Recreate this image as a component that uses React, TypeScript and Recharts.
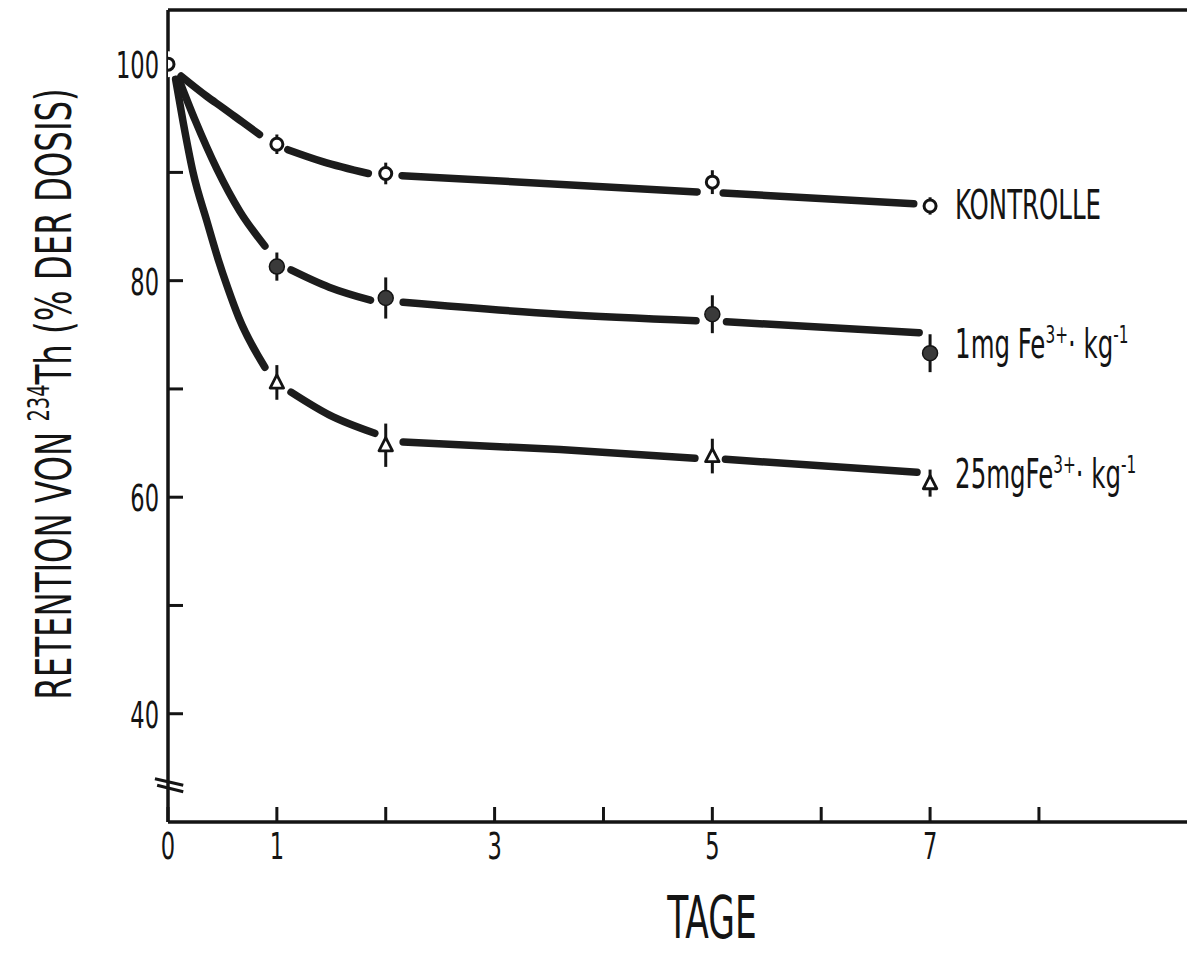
import React from 'react';
import {
  ComposedChart,
  Line,
  Scatter,
  XAxis,
  YAxis,
  ErrorBar,
  ReferenceLine,
} from 'recharts';

// measured points (days after dosing, % of dose retained)
const kontrolleDays = [0, 1, 2, 5, 7];
const kontrolleValues = [100, 92.6, 89.9, 89.1, 86.9];
const kontrolleErrors = [0, 0.9, 1.0, 1.1, 0.8];

const fe1Days = [1, 2, 5, 7];
const fe1Values = [81.3, 78.4, 76.9, 73.3];
const fe1Errors = [1.3, 1.9, 1.75, 1.75];

const fe25Days = [1, 2, 5, 7];
const fe25Values = [70.6, 64.8, 63.8, 61.3];
const fe25Errors = [1.6, 2.0, 1.6, 1.25];

// hand-drawn fit curves; null = the pen lifts around a marker
const kontrolleFitX = [0.12, 0.36, 0.5, 0.69, 0.84, 1, 1.1, 1.42, 1.84, 2, 2.15, 4.86, 5, 5.1, 6.85];
const kontrolleFitY = [98.9, 97.0, 96.0, 94.6, 93.5, null, 92.1, 91.0, 89.9, null, 89.7, 88.2, null, 88.1, 87.1];

const fe1FitX = [0.1, 0.25, 0.45, 0.66, 0.89, 1, 1.13, 1.48, 1.86, 2, 2.16, 3.6, 4.85, 5, 5.13, 6.9];
const fe1FitY = [98.6, 94.8, 90.3, 86.4, 83.2, null, 81.0, 79.4, 78.2, null, 78.0, 76.9, 76.3, null, 76.2, 75.2];

const fe25FitX = [0.07, 0.14, 0.23, 0.36, 0.46, 0.55, 0.65, 0.89, 1, 1.13, 1.48, 1.9, 2, 2.16, 3.6, 4.84, 5, 5.12, 6.88];
const fe25FitY = [98.6, 94.6, 90.0, 85.4, 82.0, 79.3, 76.6, 72.0, null, 69.7, 67.6, 65.9, null, 65.1, 64.4, 63.6, null, 63.5, 62.3];

const xTicks = [0, 1, 2, 3, 4, 5, 6, 7, 8];
const xTickLabels = ['0', '1', '', '3', '', '5', '', '7', ''];
const yTicks = [40, 50, 60, 70, 80, 90, 100];
const yTickLabels = ['40', '', '60', '', '80', '', '100'];

// series labels: [text, isSuperscript]
const kontrolleName: [string, boolean][] = [['KONTROLLE', false]];
const fe1Name: [string, boolean][] = [['1mg Fe', false], ['3+', true], ['· kg', false], ['-1', true]];
const fe25Name: [string, boolean][] = [['25mgFe', false], ['3+', true], ['· kg', false], ['-1', true]];

const xTitle = 'TAGE';
const yTitle: [string, boolean][] = [['RETENTION VON ', false], ['234', true], ['Th (% DER DOSIS)', false]];

const FONT = '"DejaVu Sans Condensed", "Liberation Sans Narrow", "DejaVu Sans", sans-serif';
const INK = '#141414';

const toPoints = (xs: number[], ys: (number | null)[]) => xs.map((x, i) => ({ x, y: ys[i] }));

const toMarks = (days: number[], values: number[], errors: number[], name: [string, boolean][]) =>
  days.map((x, i) => ({ x, y: values[i], err: errors[i], name: i === days.length - 1 ? name : null }));

const kontrolleMarks = toMarks(kontrolleDays, kontrolleValues, kontrolleErrors, kontrolleName);
const fe1Marks = toMarks(fe1Days, fe1Values, fe1Errors, fe1Name);
const fe25Marks = toMarks(fe25Days, fe25Values, fe25Errors, fe25Name);

const labelDy: Record<string, number> = { open: 13, filled: 5, triangle: 5 };

function renderParts(parts: [string, boolean][], supSize: number, supRise: number) {
  let raised = false;
  return parts.map(([txt, sup], i) => {
    let dy = 0;
    if (sup && !raised) { dy = -supRise; raised = true; }
    else if (!sup && raised) { dy = supRise; raised = false; }
    return (
      <tspan key={i} dy={dy} fontSize={sup ? supSize : undefined}>
        {txt}
      </tspan>
    );
  });
}

// condensed text: the original lettering is a narrow DIN face
function Cond({ x, y, sx, size, anchor = 'start', children }: any) {
  return (
    <text
      transform={`translate(${x}, ${y}) scale(${sx}, 1)`}
      textAnchor={anchor}
      fontFamily={FONT}
      fontSize={size}
      fill={INK}
    >
      {children}
    </text>
  );
}

function makeMarker(kind: 'open' | 'filled' | 'triangle') {
  return (props: any) => {
    const { cx, cy, payload } = props;
    if (cx == null || cy == null) return <g />;
    let mark;
    if (kind === 'open') {
      mark = <circle cx={cx} cy={cy} r={6} fill="#fff" stroke={INK} strokeWidth={3} />;
    } else if (kind === 'filled') {
      mark = <circle cx={cx} cy={cy} r={7.5} fill="#3a3a3a" stroke={INK} strokeWidth={1.5} />;
    } else {
      const s = 7.5;
      mark = (
        <polygon
          points={`${cx},${cy - s} ${cx + s * 0.9},${cy + s * 0.75} ${cx - s * 0.9},${cy + s * 0.75}`}
          fill="#fff"
          stroke={INK}
          strokeWidth={2.8}
          strokeLinejoin="round"
        />
      );
    }
    return (
      <g>
        {payload && payload.err === 0 && <circle cx={cx} cy={cy} r={13} fill="#fff" />}
        {mark}
        {payload && payload.name && (
          <Cond x={cx + 25} y={cy + labelDy[kind]} sx={0.68} size={40}>
            {renderParts(payload.name, 25, 15)}
          </Cond>
        )}
      </g>
    );
  };
}

const YTick = (props: any) => {
  const { x, y, payload } = props;
  const i = yTicks.indexOf(payload.value);
  return (
    <g>
      {payload.value !== 100 && (
        <line x1={x} x2={x + 15} y1={y} y2={y} stroke={INK} strokeWidth={3} />
      )}
      <Cond x={x - 9} y={y + 14} sx={0.66} size={38} anchor="end">
        {yTickLabels[i]}
      </Cond>
    </g>
  );
};

const XTick = (props: any) => {
  const { x, y, payload } = props;
  const i = xTicks.indexOf(payload.value);
  return (
    <g>
      <line x1={x} x2={x} y1={y} y2={y - 15} stroke={INK} strokeWidth={3} />
      <Cond x={x} y={y + 37} sx={0.66} size={38} anchor="middle">
        {xTickLabels[i]}
      </Cond>
    </g>
  );
};

const XTitle = () => (
  <Cond x={712} y={938} sx={0.66} size={58} anchor="middle">
    {xTitle}
  </Cond>
);

const YTitle = () => (
  <g transform="translate(71, 394) rotate(-90)">
    <Cond x={0} y={0} sx={0.72} size={50} anchor="middle">
      {renderParts(yTitle, 30, 22)}
    </Cond>
  </g>
);

export default function App() {
  const curve = {
    type: 'monotone' as const,
    dataKey: 'y',
    dot: false,
    activeDot: false,
    stroke: '#1c1c1c',
    strokeWidth: 7.5,
    strokeLinecap: 'round' as const,
    connectNulls: false,
    isAnimationActive: false,
  };

  return (
    <div style={{ position: 'absolute', left: 0, top: 0, width: 1187, height: 953, background: '#fff' }}>
      <ComposedChart width={1187} height={953} margin={{ top: 10, right: 0, bottom: 0, left: 0 }}>
        <XAxis
          type="number"
          dataKey="x"
          domain={[0, 9.36]}
          ticks={xTicks}
          allowDataOverflow
          height={131}
          axisLine={{ stroke: INK, strokeWidth: 3.5 }}
          tickLine={false}
          tickSize={0}
          tickMargin={0}
          tick={<XTick />}
          label={{ content: () => <XTitle /> }}
        />
        <YAxis
          type="number"
          dataKey="y"
          domain={[30, 105]}
          ticks={yTicks}
          allowDataOverflow
          width={168}
          axisLine={{ stroke: INK, strokeWidth: 3.5 }}
          tickLine={false}
          tickSize={0}
          tickMargin={0}
          tick={<YTick />}
          label={{ content: () => <YTitle /> }}
        />
        <ReferenceLine y={105} stroke={INK} strokeWidth={3.5} ifOverflow="visible" />
        <ReferenceLine
          segment={[{ x: -0.12, y: 34.0 }, { x: 0.14, y: 33.4 }]}
          stroke={INK}
          strokeWidth={3}
          ifOverflow="visible"
        />
        <ReferenceLine
          segment={[{ x: -0.1, y: 33.4 }, { x: 0.14, y: 32.8 }]}
          stroke={INK}
          strokeWidth={3}
          ifOverflow="visible"
        />

        <Line data={toPoints(kontrolleFitX, kontrolleFitY)} {...curve} />
        <Line data={toPoints(fe1FitX, fe1FitY)} {...curve} />
        <Line data={toPoints(fe25FitX, fe25FitY)} {...curve} />

        <Scatter data={kontrolleMarks} dataKey="y" shape={makeMarker('open')} isAnimationActive={false}>
          <ErrorBar dataKey="err" direction="y" width={0} stroke={INK} strokeWidth={3} />
        </Scatter>
        <Scatter data={fe1Marks} dataKey="y" shape={makeMarker('filled')} isAnimationActive={false}>
          <ErrorBar dataKey="err" direction="y" width={0} stroke={INK} strokeWidth={3} />
        </Scatter>
        <Scatter data={fe25Marks} dataKey="y" shape={makeMarker('triangle')} isAnimationActive={false}>
          <ErrorBar dataKey="err" direction="y" width={0} stroke={INK} strokeWidth={3} />
        </Scatter>
      </ComposedChart>
    </div>
  );
}
